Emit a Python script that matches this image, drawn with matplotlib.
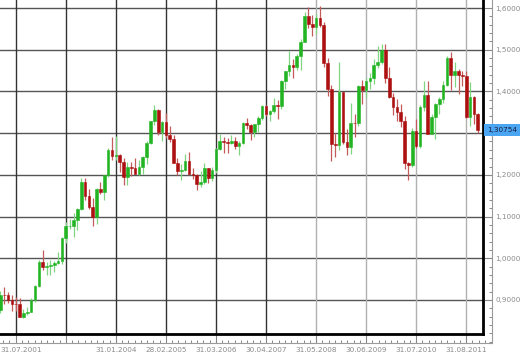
import numpy as np
import matplotlib.pyplot as plt
import matplotlib.transforms as mtransforms
from matplotlib.ticker import FixedLocator, FuncFormatter

# EUR/USD monthly candles, Jul 2001 .. Dec 2011 (index 0 = Jul 2001)
opens = [0.847, 0.877, 0.912, 0.911, 0.900, 0.891,
         0.890, 0.859, 0.869, 0.872, 0.901, 0.933, 0.991, 0.978, 0.981, 0.985, 0.989, 0.993,
         1.049, 1.077, 1.078, 1.091, 1.117, 1.182, 1.149, 1.124, 1.098, 1.165, 1.159, 1.199,
         1.259, 1.246, 1.248, 1.232, 1.196, 1.220, 1.216, 1.202, 1.218, 1.243, 1.277, 1.329,
         1.356, 1.303, 1.326, 1.296, 1.287, 1.229, 1.210, 1.212, 1.233, 1.202, 1.199, 1.179,
         1.184, 1.216, 1.192, 1.212, 1.262, 1.281, 1.279, 1.276, 1.281, 1.268, 1.276, 1.324,
         1.320, 1.302, 1.323, 1.336, 1.366, 1.346, 1.354, 1.368, 1.364, 1.426, 1.449, 1.463,
         1.459, 1.486, 1.518, 1.580, 1.561, 1.555, 1.575, 1.560, 1.468, 1.406, 1.273, 1.271,
         1.398, 1.279, 1.267, 1.325, 1.324, 1.414, 1.403, 1.425, 1.433, 1.464, 1.471, 1.500,
         1.433, 1.386, 1.363, 1.351, 1.330, 1.228, 1.223, 1.305, 1.268, 1.362, 1.392, 1.299,
         1.338, 1.369, 1.382, 1.416, 1.481, 1.439, 1.450, 1.439, 1.436, 1.339, 1.386, 1.345]
highs = [0.884, 0.921, 0.930, 0.920, 0.913, 0.907,
         0.904, 0.878, 0.884, 0.905, 0.937, 0.995, 1.019, 0.992, 0.997, 0.993, 1.014, 1.050,
         1.087, 1.094, 1.108, 1.121, 1.193, 1.193, 1.167, 1.144, 1.169, 1.182, 1.200, 1.264,
         1.291, 1.293, 1.249, 1.240, 1.232, 1.231, 1.240, 1.236, 1.244, 1.281, 1.330, 1.367,
         1.359, 1.329, 1.349, 1.317, 1.296, 1.240, 1.225, 1.249, 1.255, 1.217, 1.203, 1.209,
         1.229, 1.217, 1.219, 1.265, 1.298, 1.291, 1.289, 1.296, 1.291, 1.280, 1.327, 1.336,
         1.323, 1.323, 1.340, 1.368, 1.368, 1.355, 1.385, 1.380, 1.427, 1.450, 1.498, 1.478,
         1.490, 1.525, 1.590, 1.602, 1.584, 1.585, 1.604, 1.567, 1.480, 1.415, 1.301, 1.471,
         1.399, 1.309, 1.373, 1.347, 1.416, 1.427, 1.431, 1.443, 1.478, 1.509, 1.514, 1.513,
         1.458, 1.397, 1.383, 1.369, 1.340, 1.232, 1.312, 1.333, 1.368, 1.425, 1.424, 1.346,
         1.373, 1.386, 1.425, 1.486, 1.494, 1.470, 1.453, 1.450, 1.450, 1.422, 1.389, 1.349]
lows = [0.838, 0.868, 0.890, 0.892, 0.874, 0.873,
        0.858, 0.856, 0.864, 0.870, 0.895, 0.930, 0.972, 0.960, 0.961, 0.968, 0.987, 0.986,
        1.036, 1.070, 1.052, 1.068, 1.116, 1.140, 1.119, 1.077, 1.083, 1.154, 1.139, 1.195,
        1.235, 1.236, 1.206, 1.176, 1.176, 1.198, 1.203, 1.199, 1.203, 1.225, 1.273, 1.320,
        1.296, 1.280, 1.288, 1.279, 1.228, 1.199, 1.187, 1.210, 1.200, 1.190, 1.164, 1.171,
        1.179, 1.180, 1.186, 1.204, 1.260, 1.252, 1.252, 1.273, 1.262, 1.248, 1.274, 1.310,
        1.284, 1.291, 1.303, 1.331, 1.340, 1.330, 1.348, 1.335, 1.358, 1.405, 1.437, 1.431,
        1.452, 1.451, 1.518, 1.553, 1.534, 1.538, 1.554, 1.459, 1.390, 1.233, 1.243, 1.259,
        1.273, 1.247, 1.251, 1.290, 1.318, 1.371, 1.385, 1.405, 1.417, 1.456, 1.466, 1.421,
        1.385, 1.343, 1.329, 1.314, 1.214, 1.188, 1.219, 1.265, 1.265, 1.354, 1.298, 1.297,
        1.287, 1.345, 1.373, 1.413, 1.403, 1.411, 1.395, 1.413, 1.336, 1.316, 1.321, 1.300]
closes = [0.877, 0.912, 0.911, 0.900, 0.891, 0.890,
          0.859, 0.869, 0.872, 0.901, 0.933, 0.991, 0.978, 0.981, 0.985, 0.989, 0.993, 1.049,
          1.077, 1.078, 1.091, 1.117, 1.182, 1.149, 1.124, 1.098, 1.165, 1.159, 1.199, 1.259,
          1.246, 1.248, 1.232, 1.196, 1.220, 1.216, 1.202, 1.218, 1.243, 1.277, 1.329, 1.356,
          1.303, 1.326, 1.296, 1.287, 1.229, 1.210, 1.212, 1.233, 1.202, 1.199, 1.179, 1.184,
          1.216, 1.192, 1.212, 1.262, 1.281, 1.279, 1.276, 1.281, 1.268, 1.276, 1.324, 1.320,
          1.302, 1.323, 1.336, 1.366, 1.346, 1.354, 1.368, 1.364, 1.426, 1.449, 1.463, 1.459,
          1.486, 1.518, 1.580, 1.561, 1.555, 1.575, 1.560, 1.468, 1.406, 1.273, 1.271, 1.398,
          1.279, 1.267, 1.325, 1.324, 1.414, 1.403, 1.425, 1.433, 1.464, 1.471, 1.500, 1.433,
          1.386, 1.363, 1.351, 1.330, 1.228, 1.223, 1.305, 1.268, 1.362, 1.392, 1.299, 1.338,
          1.369, 1.382, 1.416, 1.481, 1.439, 1.450, 1.439, 1.436, 1.339, 1.386, 1.345, 1.30754]

# grid / label months (index into the candles) and their labels
grid_months = [5, 18, 31, 44, 57, 70, 83, 96, 109, 122]
grid_labels = ['', '', '31.01.2004', '28.02.2005', '31.03.2006', '30.04.2007',
               '31.05.2008', '30.06.2009', '31.07.2010', '31.08.2011']
first_label = '31.07.2001'
price_ticks = [0.9, 1.0, 1.1, 1.2, 1.3, 1.4, 1.5, 1.6]
last_price = 1.30754


def price_fmt(v, pos):
    # the 1,3000 label sits under the last-price marker
    if abs(v - 1.3) < 1e-6:
        return ''
    return f'{v:.4f}'.replace('.', ',')


W, H = 530, 359
fig = plt.figure(figsize=(W / 100, H / 100), dpi=100)
fig.patch.set_facecolor('white')

px_per_month = 3.85
px_per_unit = 417.1
x_left = 0.909
y_top = 1.6192

# outer scale axes (thin grey axis lines, ticks and labels)
ax2 = fig.add_axes([0, (H - 343) / H, 492 / W, 343 / H])
ax2.set_xlim(x_left, x_left + 492 / px_per_month)
ax2.set_ylim(y_top - 343 / px_per_unit, y_top)
ax2.set_facecolor('none')
for s in ['left', 'top']:
    ax2.spines[s].set_visible(False)
for s in ['right', 'bottom']:
    ax2.spines[s].set_color('#9a9a9a')
    ax2.spines[s].set_linewidth(0.8)
ax2.yaxis.tick_right()
ax2.xaxis.set_major_locator(FixedLocator(grid_months))
ax2.xaxis.set_minor_locator(FixedLocator(np.arange(5 - 1.625 * 3, 128, 1.625)))
ax2.set_xticklabels(grid_labels)
ax2.yaxis.set_major_locator(FixedLocator(price_ticks))
ax2.yaxis.set_minor_locator(FixedLocator(np.arange(0.80, 1.62, 0.02)))
ax2.yaxis.set_major_formatter(FuncFormatter(price_fmt))
ax2.tick_params(which='major', direction='in', length=6.5, width=0.8, color='#888888',
                labelsize=5.2, labelcolor='#8a8a8a', pad=2.5)
ax2.tick_params(which='minor', direction='in', length=2.2, width=0.7, color='#888888')
ax2.tick_params(axis='x', which='major', pad=3)
ax2.text(x_left, -0.012, first_label, transform=mtransforms.blended_transform_factory(ax2.transData, ax2.transAxes),
         ha='left', va='top', fontsize=5.2, color='#8a8a8a')

# main price axes
ax = fig.add_axes([0, (H - 334) / H, 483 / W, 334 / H])
ax.set_xlim(x_left, x_left + 483 / px_per_month)
ax.set_ylim(y_top - 334 / px_per_unit, y_top)
ax.set_facecolor('white')
ax.set_xticks([])
ax.set_yticks([])
for s in ['left', 'top']:
    ax.spines[s].set_visible(False)
for s in ['right', 'bottom']:
    ax.spines[s].set_color('black')
    ax.spines[s].set_linewidth(2)

for p in price_ticks:
    ax.axhline(p, color='#555555', lw=1, zorder=1)
for k, m in enumerate(grid_months):
    ax.axvline(m, color='#333333' if k < 6 else '#b0b0b0', lw=1, zorder=1)

o = np.array(opens)
c = np.array(closes)
x = np.arange(len(c))
up = c >= o
body_col = np.where(up, '#22b422', '#ac1010')
wick_col = np.where(up, '#80d680', '#c45a5a')

ax.vlines(x, lows, highs, colors=wick_col, lw=0.9, zorder=2)
ax.bar(x, c - o, bottom=o, width=0.7, color=body_col, edgecolor=body_col,
       linewidth=0.4, zorder=3)

# last price marker
tr = mtransforms.blended_transform_factory(fig.transFigure, ax.transData)
fig.text(487 / W, last_price, f'{last_price:.5f}'.replace('.', ','), transform=tr,
         ha='left', va='center', fontsize=5.2, color='#1a1a3a',
         bbox=dict(facecolor='#4aa6f2', edgecolor='none', pad=2.2))

fig.savefig('out.png', dpi=100)
